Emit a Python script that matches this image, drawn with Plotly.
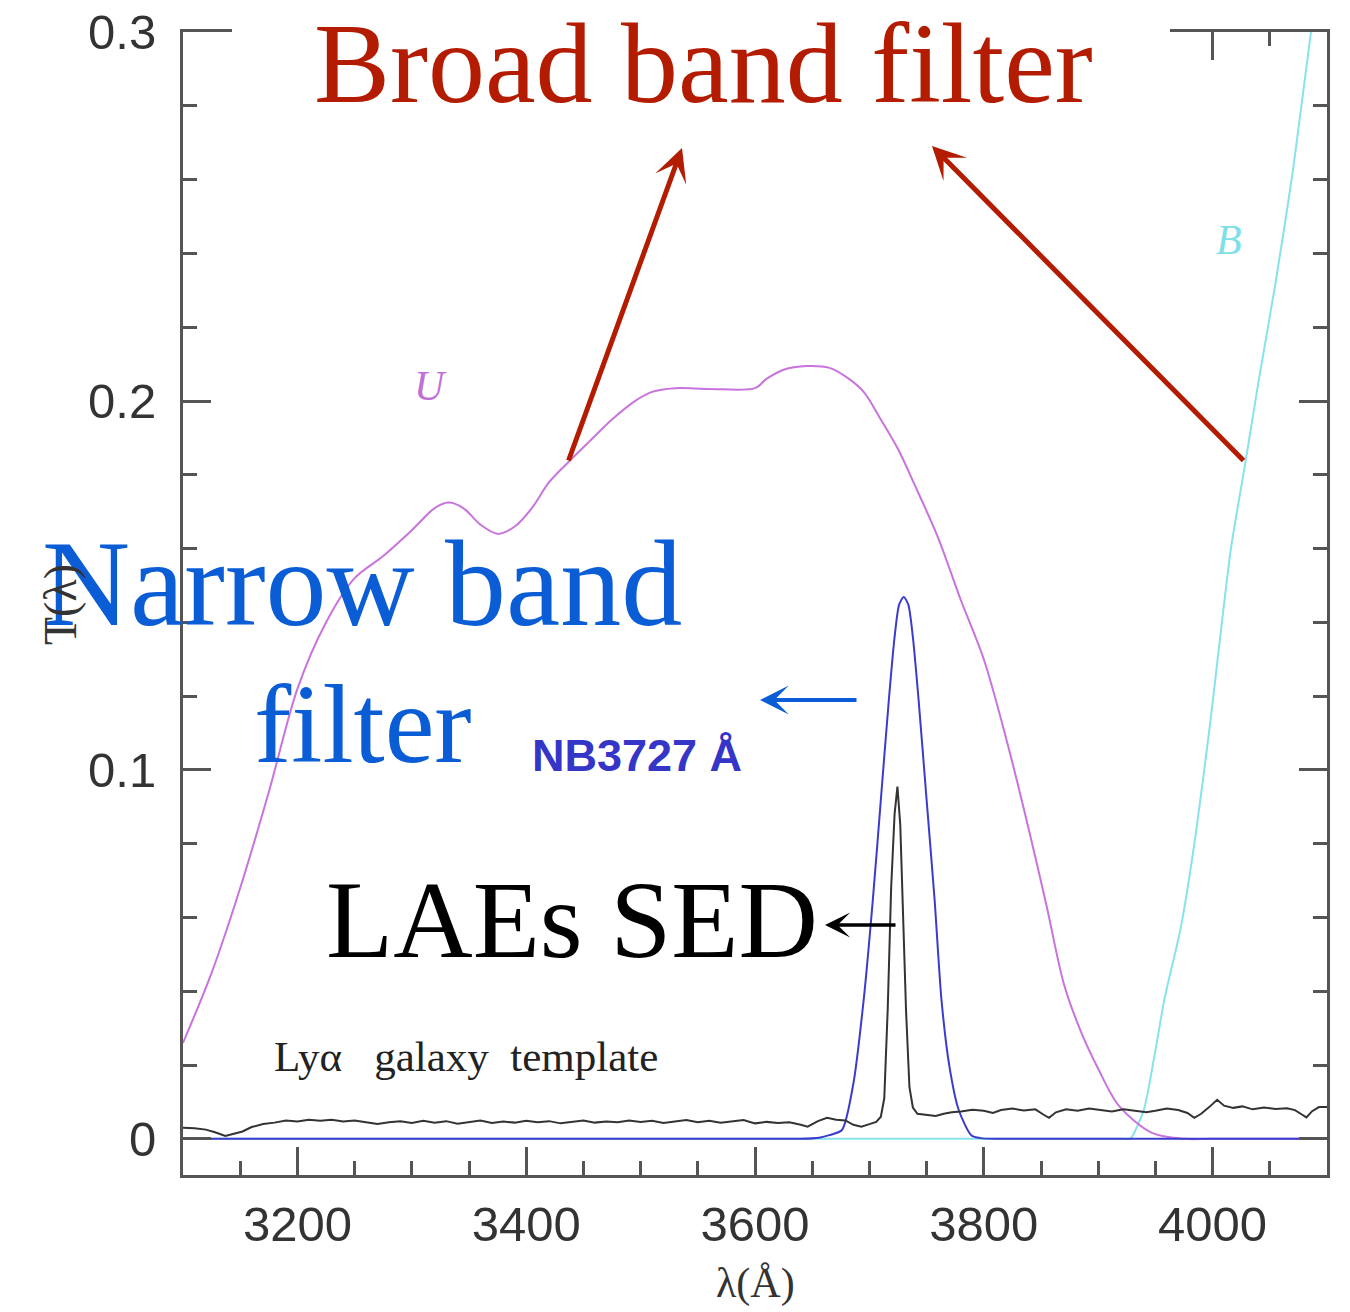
import plotly.graph_objects as go

# ---------------- data ----------------
u_wave = [3100, 3125, 3150, 3175, 3200, 3225, 3250, 3275, 3300, 3320, 3332, 3345, 3360, 3375,
          3390, 3405, 3420, 3437, 3455, 3475, 3495, 3510, 3530, 3560, 3600, 3610, 3625, 3645,
          3665, 3680, 3695, 3710, 3725, 3740, 3760, 3780, 3800, 3820, 3840, 3855, 3870, 3885,
          3900, 3918, 3947, 3975, 4000, 4100]
u_trans = [0.026, 0.045, 0.068, 0.094, 0.122, 0.140, 0.152, 0.158, 0.165, 0.171, 0.1725, 0.171,
           0.1665, 0.164, 0.166, 0.171, 0.178, 0.1835, 0.189, 0.195, 0.200, 0.2025, 0.2035,
           0.2033, 0.2035, 0.2060, 0.2085, 0.2095, 0.2090, 0.2065, 0.2025, 0.1950, 0.1870,
           0.1770, 0.1630, 0.1460, 0.1300, 0.1080, 0.0830, 0.0630, 0.0420, 0.0290, 0.0190,
           0.0090, 0.0016, 0.0, 0.0, 0.0]

b_wave = [3100, 3500, 3880, 3910, 3922, 3928, 3940, 3950, 3958, 3972, 3985, 3998, 4007, 4016,
          4029, 4040, 4055, 4070, 4086, 4095]
b_trans = [0.0, 0.0, 0.0, 0.0, 0.0, 0.0, 0.008, 0.024, 0.038, 0.057, 0.082, 0.113, 0.137,
           0.160, 0.184, 0.205, 0.232, 0.262, 0.300, 0.318]

nb_wave = [3100, 3640, 3656, 3665, 3676, 3686, 3695, 3703, 3710, 3717, 3722, 3726, 3730, 3734,
           3738, 3743, 3750, 3757, 3763, 3770, 3778, 3789, 3797, 3815, 4100]
nb_trans = [0.0, 0.0, 0.0003, 0.0010, 0.0024, 0.0150, 0.0377, 0.0648, 0.0919, 0.1190, 0.1360,
            0.1448, 0.1469, 0.1448, 0.1360, 0.1190, 0.0919, 0.0648, 0.0377, 0.0195, 0.0079,
            0.0010, 0.0002, 0.0, 0.0]

sed_wave = [3100, 3110, 3120, 3128, 3137, 3145, 3152, 3160, 3170, 3180, 3190, 3200, 3210, 3220,
            3230, 3240, 3250, 3260, 3270, 3280, 3290, 3300, 3310, 3320, 3330, 3340, 3350, 3360,
            3370, 3380, 3390, 3400, 3410, 3420, 3430, 3440, 3450, 3460, 3470, 3480, 3490, 3500,
            3510, 3520, 3530, 3540, 3550, 3560, 3570, 3580, 3590, 3600, 3610, 3620, 3630, 3640,
            3646, 3655, 3663, 3671, 3679, 3686, 3693, 3700, 3706, 3710, 3713, 3716, 3719, 3722,
            3724.5, 3727, 3729, 3732, 3735, 3738, 3742, 3750, 3758, 3765, 3772, 3780, 3790, 3800,
            3808, 3815, 3825, 3835, 3845, 3852, 3857, 3863, 3872, 3882, 3892, 3902, 3912, 3922,
            3932, 3942, 3950, 3960, 3970, 3978, 3984, 3990, 3997, 4004, 4010, 4018, 4026, 4035,
            4045, 4055, 4065, 4072, 4078, 4082, 4087, 4093, 4100]
sed_flux = [0.0030, 0.0029, 0.0025, 0.0018, 0.0008, 0.0015, 0.0020, 0.0032, 0.0040, 0.0044,
            0.0050, 0.0047, 0.0052, 0.0049, 0.0052, 0.0047, 0.0050, 0.0045, 0.0040, 0.0045,
            0.0048, 0.0043, 0.0049, 0.0044, 0.0048, 0.0041, 0.0046, 0.0050, 0.0043, 0.0047,
            0.0044, 0.0049, 0.0045, 0.0048, 0.0042, 0.0046, 0.0050, 0.0044, 0.0047, 0.0045,
            0.0050, 0.0046, 0.0049, 0.0043, 0.0047, 0.0051, 0.0045, 0.0049, 0.0044, 0.0048,
            0.0051, 0.0042, 0.0046, 0.0043, 0.0045, 0.0038, 0.0033, 0.0048, 0.0057, 0.0052,
            0.0050, 0.0038, 0.0033, 0.0040, 0.0046, 0.0060, 0.0110, 0.0350, 0.0680, 0.0880,
            0.0955, 0.0850, 0.0670, 0.0350, 0.0140, 0.0085, 0.0068, 0.0065, 0.0062, 0.0068,
            0.0072, 0.0074, 0.0079, 0.0076, 0.0070, 0.0078, 0.0082, 0.0077, 0.0080, 0.0066,
            0.0057, 0.0072, 0.0080, 0.0076, 0.0082, 0.0078, 0.0074, 0.0080, 0.0077, 0.0072,
            0.0076, 0.0082, 0.0078, 0.0070, 0.0057, 0.0068, 0.0086, 0.0106, 0.0090, 0.0084,
            0.0088, 0.0080, 0.0085, 0.0081, 0.0083, 0.0078, 0.0066, 0.0058, 0.0075, 0.0086,
            0.0086]

x_range = [3100, 4100]
y_range = [-0.0098, 0.30005]

# ---------------- layout helpers ----------------
# The page body has an 8px margin, so the figure is shrunk by 8px and the
# plot area is placed so that it lands at the reference pixel positions.
PAGE = 8
W, H = 1350 - PAGE, 1312 - PAGE
PL, PR, PT, PB = 183, 1327, 32, 1175          # plot area in reference pixels
ML, MR = PL - PAGE, W - (PR - PAGE)
MT, MB = PT - PAGE, H - (PB - PAGE)


def px2x(px):
    return (px - PL) / (PR - PL)


def py2y(py):
    return (PB - py) / (PB - PT)


AXC = "#555555"
fig = go.Figure()

fig.add_trace(go.Scatter(x=b_wave, y=b_trans, mode="lines",
                         line=dict(color="#86E3EA", width=2, shape="spline", smoothing=0.6),
                         hoverinfo="skip"))
fig.add_trace(go.Scatter(x=u_wave, y=u_trans, mode="lines",
                         line=dict(color="#C874DC", width=2, shape="spline", smoothing=0.9),
                         hoverinfo="skip"))
fig.add_trace(go.Scatter(x=nb_wave, y=nb_trans, mode="lines",
                         line=dict(color="#3C3CCC", width=2, shape="spline", smoothing=0.7),
                         hoverinfo="skip"))
fig.add_trace(go.Scatter(x=sed_wave, y=sed_flux, mode="lines",
                         line=dict(color="#333333", width=2), hoverinfo="skip"))

axis_common = dict(showline=True, linecolor=AXC, linewidth=3, mirror="allticks",
                   ticks="inside", ticklen=28, tickwidth=2.5, tickcolor=AXC,
                   showgrid=False, zeroline=False, automargin=False,
                   ticklabeloverflow="allow",
                   tickfont=dict(family="Liberation Sans", size=49, color="#333333"))

fig.update_xaxes(range=x_range, tick0=0, dtick=200, ticklabelstandoff=4,
                 minor=dict(tick0=0, dtick=50, ticklen=14, tickwidth=2.5, tickcolor=AXC,
                            ticks="inside", showgrid=False),
                 **axis_common)
fig.update_yaxes(range=y_range, tick0=0, dtick=0.1, ticklabelstandoff=14,
                 minor=dict(tick0=0, dtick=0.02, ticklen=14, tickwidth=2.5, tickcolor=AXC,
                            ticks="inside", showgrid=False),
                 **axis_common)

shapes = [
    # white box behind the big title (hides that part of the top frame and its ticks)
    dict(type="rect", xref="paper", yref="paper", x0=px2x(232), x1=px2x(1170),
         y0=py2y(72), y1=py2y(10), fillcolor="white", line=dict(width=0), layer="above"),
]

SERIF = "Liberation Serif"
annotations = [
    dict(text="Broad band filter", x=px2x(703), y=py2y(64),
         font=dict(family=SERIF, size=114, color="#B41C02")),
    dict(text="Narrow band", x=px2x(362), y=py2y(583),
         font=dict(family=SERIF, size=122, color="#0B5DD6")),
    dict(text="filter", x=px2x(363), y=py2y(724),
         font=dict(family=SERIF, size=112, color="#0B5DD6")),
    dict(text="LAEs SED", x=px2x(572), y=py2y(920),
         font=dict(family=SERIF, size=110, color="#000000")),
    dict(text="<i>U</i>", x=px2x(430), y=py2y(386),
         font=dict(family=SERIF, size=42, color="#C070D8")),
    dict(text="<i>B</i>", x=px2x(1229), y=py2y(240),
         font=dict(family=SERIF, size=42, color="#80E0E8")),
    dict(text="<b>NB3727 Å</b>", x=px2x(637), y=py2y(755),
         font=dict(family="Liberation Sans", size=45, color="#3535C8")),
    dict(text="Lyα\u00a0\u00a0\u00a0galaxy\u00a0\u00a0template", x=px2x(466), y=py2y(1056),
         font=dict(family=SERIF, size=43, color="#222222")),
    dict(text="T(λ)", x=px2x(61), y=py2y(605), textangle=-90,
         font=dict(family=SERIF, size=46, color="#333333")),
    dict(text="λ(Å)", x=px2x(755), y=py2y(1283),
         font=dict(family=SERIF, size=42, color="#333333")),
]
for a in annotations:
    a.update(xref="paper", yref="paper", showarrow=False, xanchor="center", yanchor="middle")


def arrow(tail, tip, color, width, size):
    return dict(xref="paper", yref="paper", x=px2x(tip[0]), y=py2y(tip[1]),
                ax=tail[0] - tip[0], ay=tail[1] - tip[1], axref="pixel", ayref="pixel",
                text="", showarrow=True, arrowhead=3, arrowsize=size, arrowwidth=width,
                arrowcolor=color, standoff=0, startstandoff=0)


annotations += [
    arrow((568, 462), (682, 148), "#B41C02", 5, 1.1),
    arrow((1245, 462), (932, 146), "#B41C02", 5, 1.1),
    arrow((858, 700), (760, 700), "#0B5DD6", 4, 1.2),
    arrow((897, 925), (825, 925), "#000000", 3.5, 1.2),
]

fig.update_layout(width=W, height=H, margin=dict(l=ML, r=MR, t=MT, b=MB),
                  paper_bgcolor="white", plot_bgcolor="white", showlegend=False,
                  shapes=shapes, annotations=annotations)

fig.write_html("out.html")
